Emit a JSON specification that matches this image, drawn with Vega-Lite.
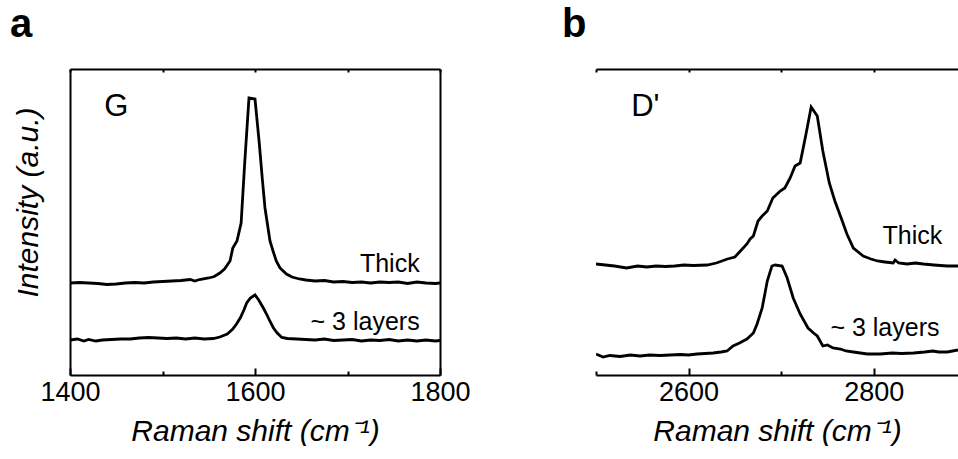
{
  "$schema": "https://vega.github.io/schema/vega-lite/v6.json",
  "padding": {"left": 10, "top": 5, "right": 0, "bottom": 0},
  "bounds": "flush",
  "spacing": 156,
  "config": {
    "view": {"stroke": null},
    "font": "Liberation Sans",
    "axis": {
      "domainColor": "black", "domainWidth": 2, "tickColor": "black", "tickWidth": 2,
      "labelColor": "black", "labelFont": "Liberation Sans", "labelFontSize": 27,
      "titleFont": "Liberation Sans", "titleFontSize": 30, "titleFontStyle": "italic",
      "titleFontWeight": "normal", "titleColor": "black", "grid": false, "minExtent": 0
    }
  },
  "datasets": {
    "a": [
      {"x":1400,"y":92,"s":"Thick"},{"x":1410,"y":92.5,"s":"Thick"},{"x":1420,"y":92,"s":"Thick"},{"x":1430,"y":91.5,"s":"Thick"},{"x":1440,"y":90.5,"s":"Thick"},{"x":1450,"y":91,"s":"Thick"},{"x":1460,"y":92,"s":"Thick"},{"x":1470,"y":92.5,"s":"Thick"},{"x":1480,"y":92,"s":"Thick"},{"x":1490,"y":93,"s":"Thick"},{"x":1500,"y":93.5,"s":"Thick"},{"x":1510,"y":94,"s":"Thick"},{"x":1520,"y":94.5,"s":"Thick"},{"x":1530,"y":95.5,"s":"Thick"},{"x":1535,"y":94,"s":"Thick"},{"x":1540,"y":95.5,"s":"Thick"},{"x":1550,"y":97,"s":"Thick"},{"x":1556,"y":98.5,"s":"Thick"},{"x":1562,"y":102,"s":"Thick"},{"x":1567,"y":106,"s":"Thick"},{"x":1573,"y":114,"s":"Thick"},{"x":1576,"y":127,"s":"Thick"},{"x":1580.5,"y":134,"s":"Thick"},{"x":1585,"y":152,"s":"Thick"},{"x":1589,"y":214,"s":"Thick"},{"x":1593.5,"y":277,"s":"Thick"},{"x":1600,"y":276,"s":"Thick"},{"x":1604.7,"y":231,"s":"Thick"},{"x":1608,"y":195,"s":"Thick"},{"x":1610.8,"y":167,"s":"Thick"},{"x":1616.2,"y":134,"s":"Thick"},{"x":1619.5,"y":124,"s":"Thick"},{"x":1623,"y":114,"s":"Thick"},{"x":1627,"y":107,"s":"Thick"},{"x":1634,"y":101,"s":"Thick"},{"x":1640,"y":98,"s":"Thick"},{"x":1648,"y":96,"s":"Thick"},{"x":1655,"y":95,"s":"Thick"},{"x":1665,"y":94,"s":"Thick"},{"x":1675,"y":94.5,"s":"Thick"},{"x":1685,"y":93,"s":"Thick"},{"x":1695,"y":93.5,"s":"Thick"},{"x":1705,"y":92.5,"s":"Thick"},{"x":1715,"y":93,"s":"Thick"},{"x":1725,"y":92,"s":"Thick"},{"x":1735,"y":93,"s":"Thick"},{"x":1745,"y":92.5,"s":"Thick"},{"x":1755,"y":93,"s":"Thick"},{"x":1765,"y":91.5,"s":"Thick"},{"x":1775,"y":93,"s":"Thick"},{"x":1785,"y":92,"s":"Thick"},{"x":1795,"y":91.5,"s":"Thick"},{"x":1800,"y":92,"s":"Thick"},
      {"x":1400,"y":35,"s":"3L"},{"x":1408,"y":36,"s":"3L"},{"x":1415,"y":34,"s":"3L"},{"x":1420,"y":35.5,"s":"3L"},{"x":1428,"y":34,"s":"3L"},{"x":1435,"y":35,"s":"3L"},{"x":1445,"y":35.5,"s":"3L"},{"x":1455,"y":36,"s":"3L"},{"x":1465,"y":36,"s":"3L"},{"x":1475,"y":37,"s":"3L"},{"x":1485,"y":37.5,"s":"3L"},{"x":1495,"y":37,"s":"3L"},{"x":1505,"y":36.5,"s":"3L"},{"x":1515,"y":37,"s":"3L"},{"x":1525,"y":36,"s":"3L"},{"x":1535,"y":37,"s":"3L"},{"x":1545,"y":36,"s":"3L"},{"x":1555,"y":36.5,"s":"3L"},{"x":1562,"y":38,"s":"3L"},{"x":1570,"y":41,"s":"3L"},{"x":1576,"y":46,"s":"3L"},{"x":1580,"y":51,"s":"3L"},{"x":1584,"y":57,"s":"3L"},{"x":1588,"y":65,"s":"3L"},{"x":1591,"y":72,"s":"3L"},{"x":1595,"y":77,"s":"3L"},{"x":1600,"y":80,"s":"3L"},{"x":1604,"y":75,"s":"3L"},{"x":1609,"y":67,"s":"3L"},{"x":1613,"y":60,"s":"3L"},{"x":1616,"y":54,"s":"3L"},{"x":1620,"y":47,"s":"3L"},{"x":1624,"y":42,"s":"3L"},{"x":1629,"y":37.5,"s":"3L"},{"x":1635,"y":36.5,"s":"3L"},{"x":1645,"y":36,"s":"3L"},{"x":1655,"y":35.5,"s":"3L"},{"x":1665,"y":35,"s":"3L"},{"x":1675,"y":36,"s":"3L"},{"x":1685,"y":34.5,"s":"3L"},{"x":1695,"y":35,"s":"3L"},{"x":1705,"y":35.5,"s":"3L"},{"x":1715,"y":34,"s":"3L"},{"x":1725,"y":35,"s":"3L"},{"x":1735,"y":34.5,"s":"3L"},{"x":1745,"y":35.5,"s":"3L"},{"x":1755,"y":34,"s":"3L"},{"x":1765,"y":35,"s":"3L"},{"x":1775,"y":34,"s":"3L"},{"x":1785,"y":35,"s":"3L"},{"x":1795,"y":34,"s":"3L"},{"x":1800,"y":34.5,"s":"3L"}
    ],
    "b": [
      {"x":2500,"y":111,"s":"Thick"},{"x":2510,"y":110,"s":"Thick"},{"x":2520,"y":109,"s":"Thick"},{"x":2533,"y":107,"s":"Thick"},{"x":2545,"y":109,"s":"Thick"},{"x":2555,"y":108,"s":"Thick"},{"x":2565,"y":109,"s":"Thick"},{"x":2575,"y":108.5,"s":"Thick"},{"x":2585,"y":109,"s":"Thick"},{"x":2595,"y":110,"s":"Thick"},{"x":2605,"y":109.5,"s":"Thick"},{"x":2620,"y":110,"s":"Thick"},{"x":2630,"y":112,"s":"Thick"},{"x":2642,"y":116,"s":"Thick"},{"x":2650,"y":118,"s":"Thick"},{"x":2656,"y":124,"s":"Thick"},{"x":2663,"y":131,"s":"Thick"},{"x":2666.5,"y":136,"s":"Thick"},{"x":2670,"y":139,"s":"Thick"},{"x":2675,"y":154,"s":"Thick"},{"x":2679.5,"y":159,"s":"Thick"},{"x":2685,"y":164,"s":"Thick"},{"x":2691,"y":177,"s":"Thick"},{"x":2699,"y":184,"s":"Thick"},{"x":2704,"y":187,"s":"Thick"},{"x":2709.7,"y":197,"s":"Thick"},{"x":2715,"y":209,"s":"Thick"},{"x":2720.5,"y":212,"s":"Thick"},{"x":2726,"y":237,"s":"Thick"},{"x":2732.4,"y":268,"s":"Thick"},{"x":2739,"y":259,"s":"Thick"},{"x":2745,"y":224,"s":"Thick"},{"x":2752,"y":192,"s":"Thick"},{"x":2758,"y":174,"s":"Thick"},{"x":2766,"y":154,"s":"Thick"},{"x":2771,"y":141,"s":"Thick"},{"x":2778,"y":127,"s":"Thick"},{"x":2788.6,"y":119,"s":"Thick"},{"x":2797,"y":116,"s":"Thick"},{"x":2804,"y":114,"s":"Thick"},{"x":2812,"y":113,"s":"Thick"},{"x":2821,"y":112,"s":"Thick"},{"x":2823,"y":115,"s":"Thick"},{"x":2827,"y":112,"s":"Thick"},{"x":2836,"y":111,"s":"Thick"},{"x":2845,"y":112,"s":"Thick"},{"x":2853.5,"y":111,"s":"Thick"},{"x":2865,"y":110,"s":"Thick"},{"x":2879.5,"y":109,"s":"Thick"},{"x":2891,"y":109,"s":"Thick"},
      {"x":2500,"y":21,"s":"3L"},{"x":2507.6,"y":18,"s":"3L"},{"x":2515,"y":19.5,"s":"3L"},{"x":2526,"y":18.5,"s":"3L"},{"x":2537,"y":20,"s":"3L"},{"x":2547.6,"y":19,"s":"3L"},{"x":2558,"y":20,"s":"3L"},{"x":2569,"y":19.5,"s":"3L"},{"x":2580,"y":20,"s":"3L"},{"x":2591,"y":20.5,"s":"3L"},{"x":2600,"y":20,"s":"3L"},{"x":2609,"y":21,"s":"3L"},{"x":2618,"y":21.5,"s":"3L"},{"x":2626.5,"y":22,"s":"3L"},{"x":2635,"y":23,"s":"3L"},{"x":2641.6,"y":24,"s":"3L"},{"x":2648,"y":29,"s":"3L"},{"x":2655,"y":32,"s":"3L"},{"x":2663,"y":36,"s":"3L"},{"x":2670,"y":42,"s":"3L"},{"x":2674,"y":51,"s":"3L"},{"x":2679.5,"y":67,"s":"3L"},{"x":2685,"y":94,"s":"3L"},{"x":2690,"y":109,"s":"3L"},{"x":2693.5,"y":110,"s":"3L"},{"x":2701,"y":109,"s":"3L"},{"x":2706.5,"y":97,"s":"3L"},{"x":2713,"y":77,"s":"3L"},{"x":2720.5,"y":61,"s":"3L"},{"x":2729,"y":47,"s":"3L"},{"x":2735,"y":42,"s":"3L"},{"x":2739,"y":39,"s":"3L"},{"x":2745,"y":29,"s":"3L"},{"x":2750,"y":30,"s":"3L"},{"x":2756,"y":27,"s":"3L"},{"x":2764,"y":26,"s":"3L"},{"x":2770,"y":24,"s":"3L"},{"x":2778,"y":23,"s":"3L"},{"x":2793,"y":21,"s":"3L"},{"x":2807,"y":21,"s":"3L"},{"x":2820,"y":22,"s":"3L"},{"x":2830,"y":21.5,"s":"3L"},{"x":2843,"y":22,"s":"3L"},{"x":2855,"y":23,"s":"3L"},{"x":2864,"y":24,"s":"3L"},{"x":2870,"y":23,"s":"3L"},{"x":2879.5,"y":23,"s":"3L"},{"x":2891,"y":25,"s":"3L"}
    ]
  },
  "hconcat": [
    {
      "width": 370, "height": 306,
      "title": {"text": "a", "anchor": "start", "frame": "group", "fontSize": 40, "fontWeight": "bold", "font": "Liberation Sans", "color": "black", "dx": -60, "offset": -9, "baseline": "alphabetic"},
      "layer": [
        {
          "data": {"name": "a"},
          "transform": [{"filter": "datum.s === 'Thick'"}],
          "mark": {"type": "line", "color": "black", "strokeWidth": 2.8, "clip": true},
          "encoding": {
            "x": {"field": "x", "type": "quantitative", "scale": {"domain": [1400, 1800], "nice": false, "zero": false},
              "axis": {"orient": "bottom", "values": [1400, 1500, 1600, 1700, 1800], "labelExpr": "datum.value % 200 === 0 ? datum.label : ''", "format": "d",
                "tickSize": {"condition": {"test": "datum.value % 200 === 0", "value": -7}, "value": -4},
                "labelPadding": 11, "labelFlush": false, "labelOverlap": false, "title": "Raman shift (cm⁻¹)", "titlePadding": 8}},
            "y": {"field": "y", "type": "quantitative", "scale": {"domain": [0, 306], "nice": false, "zero": false},
              "axis": {"orient": "left", "labels": false, "ticks": false, "title": "Intensity (a.u.)", "titleFontSize": 30, "titlePadding": 27, "titleY": 133}}
          }
        },
        {
          "data": {"name": "a"},
          "transform": [{"filter": "datum.s === '3L'"}],
          "mark": {"type": "line", "color": "black", "strokeWidth": 2.8, "clip": true},
          "encoding": {
            "x": {"field": "x", "type": "quantitative", "axis": {"orient": "top", "values": [1400, 1500, 1600, 1700, 1800], "labels": false, "tickSize": -3, "title": null}},
            "y": {"field": "y", "type": "quantitative", "axis": {"orient": "right", "labels": false, "ticks": false, "title": null}}
          }
        },
        {
          "data": {"values": [{}]},
          "mark": {"type": "text", "text": "G", "align": "left", "baseline": "alphabetic", "fontSize": 31, "font": "Liberation Sans", "color": "black"},
          "encoding": {"x": {"datum": 1437, "type": "quantitative", "axis": null}, "y": {"datum": 259, "type": "quantitative", "axis": null}}
        },
        {
          "data": {"values": [{}]},
          "mark": {"type": "text", "text": "Thick", "align": "right", "baseline": "alphabetic", "fontSize": 25, "font": "Liberation Sans", "color": "black"},
          "encoding": {"x": {"datum": 1778, "type": "quantitative", "axis": null}, "y": {"datum": 103, "type": "quantitative", "axis": null}}
        },
        {
          "data": {"values": [{}]},
          "mark": {"type": "text", "text": "~ 3 layers", "align": "right", "baseline": "alphabetic", "fontSize": 25, "font": "Liberation Sans", "color": "black"},
          "encoding": {"x": {"datum": 1778, "type": "quantitative", "axis": null}, "y": {"datum": 45, "type": "quantitative", "axis": null}}
        }
      ]
    },
    {
      "width": 362, "height": 306,
      "title": {"text": "b", "anchor": "start", "frame": "group", "fontSize": 40, "fontWeight": "bold", "font": "Liberation Sans", "color": "black", "dx": -34, "offset": -9, "baseline": "alphabetic"},
      "layer": [
        {
          "data": {"name": "b"},
          "transform": [{"filter": "datum.s === 'Thick'"}],
          "mark": {"type": "line", "color": "black", "strokeWidth": 2.8, "clip": true},
          "encoding": {
            "x": {"field": "x", "type": "quantitative", "scale": {"domain": [2500, 2891], "nice": false, "zero": false},
              "axis": {"orient": "bottom", "values": [2500, 2600, 2700, 2800], "labelExpr": "datum.value % 200 === 0 ? datum.label : ''", "format": "d",
                "tickSize": {"condition": {"test": "datum.value % 200 === 0", "value": -7}, "value": -4},
                "labelPadding": 11, "labelFlush": false, "labelOverlap": false, "title": "Raman shift (cm⁻¹)", "titlePadding": 8}},
            "y": {"field": "y", "type": "quantitative", "scale": {"domain": [0, 306], "nice": false, "zero": false},
              "axis": {"orient": "left", "labels": false, "ticks": false, "title": "Intensity (a.u.)", "titleFontSize": 30, "titlePadding": 27, "titleY": 133}}
          }
        },
        {
          "data": {"name": "b"},
          "transform": [{"filter": "datum.s === '3L'"}],
          "mark": {"type": "line", "color": "black", "strokeWidth": 2.8, "clip": true},
          "encoding": {
            "x": {"field": "x", "type": "quantitative", "axis": {"orient": "top", "values": [2500, 2600, 2700, 2800], "labels": false, "tickSize": -3, "title": null}},
            "y": {"field": "y", "type": "quantitative"}
          }
        },
        {
          "data": {"values": [{}]},
          "mark": {"type": "text", "text": "D'", "align": "left", "baseline": "alphabetic", "fontSize": 31, "font": "Liberation Sans", "color": "black"},
          "encoding": {"x": {"datum": 2538, "type": "quantitative", "axis": null}, "y": {"datum": 259, "type": "quantitative", "axis": null}}
        },
        {
          "data": {"values": [{}]},
          "mark": {"type": "text", "text": "Thick", "align": "right", "baseline": "alphabetic", "fontSize": 25, "font": "Liberation Sans", "color": "black"},
          "encoding": {"x": {"datum": 2874, "type": "quantitative", "axis": null}, "y": {"datum": 131, "type": "quantitative", "axis": null}}
        },
        {
          "data": {"values": [{}]},
          "mark": {"type": "text", "text": "~ 3 layers", "align": "right", "baseline": "alphabetic", "fontSize": 25, "font": "Liberation Sans", "color": "black"},
          "encoding": {"x": {"datum": 2871, "type": "quantitative", "axis": null}, "y": {"datum": 39, "type": "quantitative", "axis": null}}
        }
      ]
    }
  ]
}
